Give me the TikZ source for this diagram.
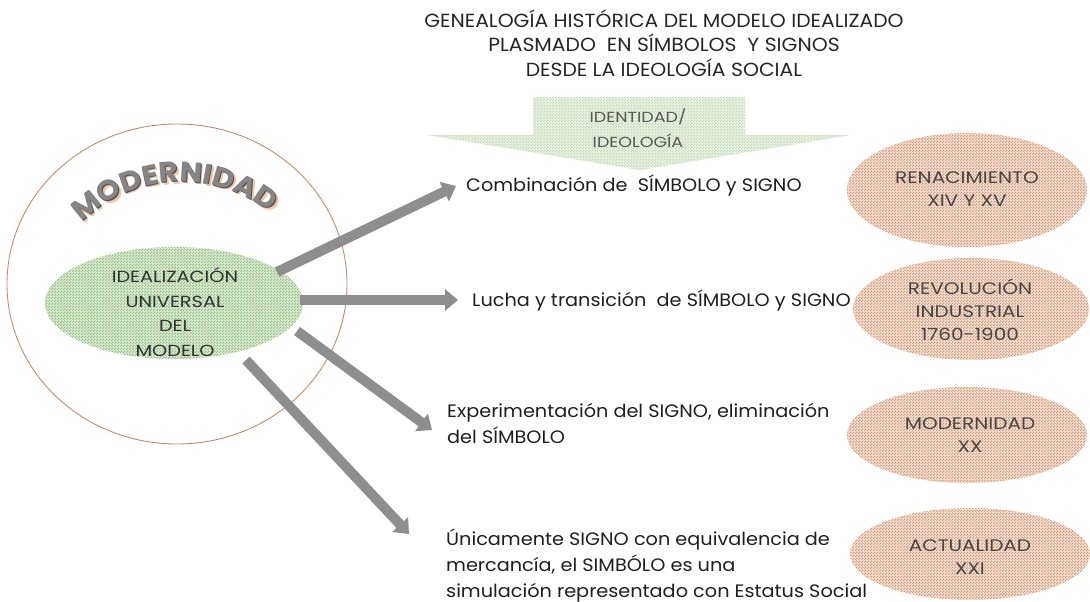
\documentclass[tikz,border=0pt]{standalone}
\usepackage{fontspec}
\setmainfont{Poppins}[FakeStretch=1.07]
\newfontfamily\capsfont{Poppins}[FakeStretch=1.2]
\usetikzlibrary{shapes.geometric, patterns.meta, decorations.text, arrows.meta}
\definecolor{circbrown}{HTML}{C98B67}
\definecolor{gbase}{HTML}{DCEBD4}
\definecolor{gdot}{HTML}{93BF82}
\definecolor{lgbase}{HTML}{EAF3E4}
\definecolor{lgdot}{HTML}{C3DBB5}
\definecolor{obase}{HTML}{F5E1D4}
\definecolor{odot}{HTML}{D49A78}
\definecolor{arrowgray}{HTML}{8E8E8E}
\definecolor{shadoworange}{HTML}{F3C4A3}
\definecolor{letgray}{HTML}{858585}
\definecolor{letdark}{HTML}{4E4E4E}
\tikzdeclarepattern{
  name=fchecker,
  type=uncolored,
  bounding box={(0pt,0pt) and (3pt,3pt)},
  tile size={(3pt,3pt)},
  code={
    \fill (0pt,0pt) rectangle (1.5pt,1.5pt);
    \fill (1.5pt,1.5pt) rectangle (3pt,3pt);
  }
}
\begin{document}
\begin{tikzpicture}[x=1pt,y=-1pt,
  body/.style={font=\fontsize{18}{26}\selectfont, text=black!88, inner sep=0pt, align=left},
  era/.style={ellipse, inner sep=0pt, fill=obase, postaction={pattern=fchecker, pattern color=odot}},
  eratext/.style={font=\capsfont\fontsize{16.7}{23}\selectfont, text=black!72, align=center, inner sep=0pt},
  garrow/.style={line width=10pt, draw=arrowgray, -{Triangle[length=13pt,width=21pt]}},
]
\useasboundingbox (0,0) rectangle (1090,602);

% title
\node[font=\fontsize{19}{24.5}\selectfont, align=center, text=black!85, inner sep=0pt] (title) at (664,43)
  {GENEALOGÍA HISTÓRICA DEL MODELO IDEALIZADO\\PLASMADO\ \ EN SÍMBOLOS\ \ Y SIGNOS\\DESDE LA IDEOLOGÍA SOCIAL};

% green down arrow
\path[fill=lgbase, postaction={pattern=fchecker, pattern color=lgdot}]
  (533,97) -- (745,97) -- (745,135) -- (850,135) -- (640,170) -- (427,135) -- (533,135) -- cycle;
\node[font=\capsfont\fontsize{14.6}{25}\selectfont, text=black!65, align=center, inner sep=0pt] (ident) at (638,128) {IDENTIDAD/\\IDEOLOGÍA};

% outer circle
\node[ellipse, draw=circbrown, line width=0.9pt, minimum width=340pt, minimum height=320pt, inner sep=0pt] (outer) at (177,284) {};

% MODERNIDAD arc text
\begin{scope}[shift={(2.5,2.5)}]
\path[decorate, decoration={text along path, text align=center, text={|\fontsize{28}{28}\selectfont\bfseries\color{shadoworange}|MODERNIDAD}}]
  (78.9,224.9) arc[start angle=-136, end angle=-50, radius=142];
\end{scope}
\begin{scope}[shift={(0.9,0.9)}]
\path[decorate, decoration={text along path, text align=center, text={|\fontsize{28}{28}\selectfont\bfseries\color{letdark}|MODERNIDAD}}]
  (78.9,224.9) arc[start angle=-136, end angle=-50, radius=142];
\end{scope}
\path[decorate, decoration={text along path, text align=center, text={|\fontsize{28}{28}\selectfont\bfseries\color{letgray}|MODERNIDAD}}]
  (78.9,224.9) arc[start angle=-136, end angle=-50, radius=142];

% green ellipse
\node[ellipse, minimum width=258pt, minimum height=112pt, inner sep=0pt, fill=gbase, postaction={pattern=fchecker, pattern color=gdot}] (ideal) at (174,303) {};
\node[font=\capsfont\fontsize{16.1}{24.5}\selectfont, text=black!80, align=center, inner sep=0pt] (idealtxt) at (175,312)
  {IDEALIZACIÓN\\UNIVERSAL\\DEL\\MODELO};

% texts
\node[body, anchor=west] (t1) at (466,185) {Combinación de\ \ SÍMBOLO y SIGNO};
\node[body, anchor=west] (t2) at (472,300) {Lucha y transición\ \ de SÍMBOLO y SIGNO};
\node[body, anchor=west] (t3) at (447,423) {Experimentación del SIGNO, eliminación\\del SÍMBOLO};
\node[body, anchor=west] (t4) at (446,565) {Únicamente SIGNO con equivalencia de\\mercancía, el SIMBÓLO es una\\simulación representado con Estatus Social};

% arrows
\coordinate (s1) at (277,272); \coordinate (e1) at (456,186);
\coordinate (s2) at (300,300); \coordinate (e2) at (458,300);
\coordinate (s3) at (297,331); \coordinate (e3) at (432,430);
\coordinate (s4) at (246,360); \coordinate (e4) at (409,534);
\draw[garrow] (s1) -- (e1);
\draw[garrow] (s2) -- (e2);
\draw[garrow] (s3) -- (e3);
\draw[garrow] (s4) -- (e4);

% era ellipses
\node[era, minimum width=240pt, minimum height=114pt] (era1) at (967,190) {};
\node[eratext] (ertx1) at (967,189) {RENACIMIENTO\\XIV Y XV};
\node[era, minimum width=236pt, minimum height=102pt] (era2) at (971,309) {};
\node[eratext] (ertx2) at (970,310) {REVOLUCIÓN\\INDUSTRIAL\\1760-1900};
\node[era, minimum width=240pt, minimum height=96pt] (era3) at (967,435) {};
\node[eratext] (ertx3) at (970,435) {MODERNIDAD\\XX};
\node[era, minimum width=240pt, minimum height=92pt] (era4) at (970,554) {};
\node[eratext] (ertx4) at (970,557) {ACTUALIDAD\\XXI};
\end{tikzpicture}
\end{document}
